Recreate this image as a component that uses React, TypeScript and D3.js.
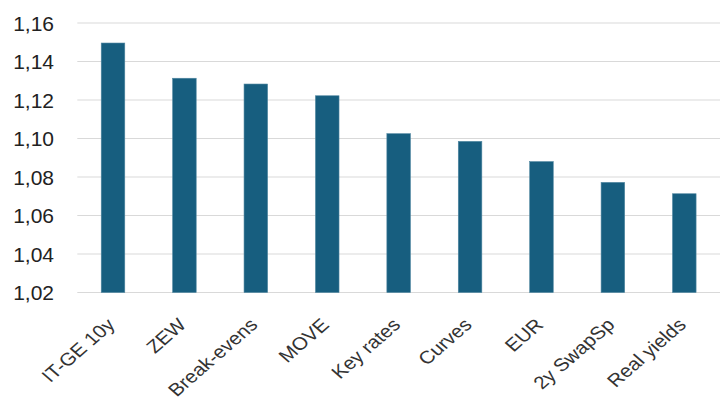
import React from "react";
import * as d3 from "d3";

const categories = ["IT-GE 10y", "ZEW", "Break-evens", "MOVE", "Key rates", "Curves", "EUR", "2y SwapSp", "Real yields"];
const values = [1.1496, 1.1313, 1.1283, 1.1222, 1.1025, 1.0985, 1.088, 1.0772, 1.0713];
const yTicks = [1.02, 1.04, 1.06, 1.08, 1.1, 1.12, 1.14, 1.16];

const W = 727;
const H = 403;
const left = 77.3;
const right = 720;
const top = 23;
const bottom = 292.5;

export default function App() {
  const x = d3.scaleBand<string>().domain(categories).range([left, right]).paddingInner(0.67).paddingOuter(0.335);
  const y = d3.scaleLinear().domain([1.02, 1.16]).range([bottom, top]);
  const fmt = (v: number) => v.toFixed(2).replace(".", ",");
  return (
    <svg width={W} height={H} style={{ position: "absolute", left: 0, top: 0, background: "#fff" }}>
      {yTicks.map((t) => (
        <g key={t}>
          <line x1={left} x2={right} y1={y(t)} y2={y(t)} stroke="#d9d9d9" strokeWidth={1.2} />
          <text x={54} y={y(t)} dy="0.36em" textAnchor="end" fontFamily="Liberation Sans, Arial, sans-serif" fontSize={21} fill="#222">
            {fmt(t)}
          </text>
        </g>
      ))}
      {categories.map((c, i) => (
        <rect key={c} x={x(c)} y={y(values[i])} width={x.bandwidth()} height={y(1.02) - y(values[i])} fill="#175e7f" stroke="#4f86a0" strokeWidth={0.6} />
      ))}
      {categories.map((c) => {
        const ax = (x(c) as number) + x.bandwidth() / 2 + 3;
        const ay = 326;
        return (
          <text key={c} transform={`translate(${ax},${ay}) scale(1.15,1) rotate(-45)`} textAnchor="end" fontFamily="Liberation Sans, Arial, sans-serif" fontSize={18} fill="#333">
            {c}
          </text>
        );
      })}
    </svg>
  );
}
